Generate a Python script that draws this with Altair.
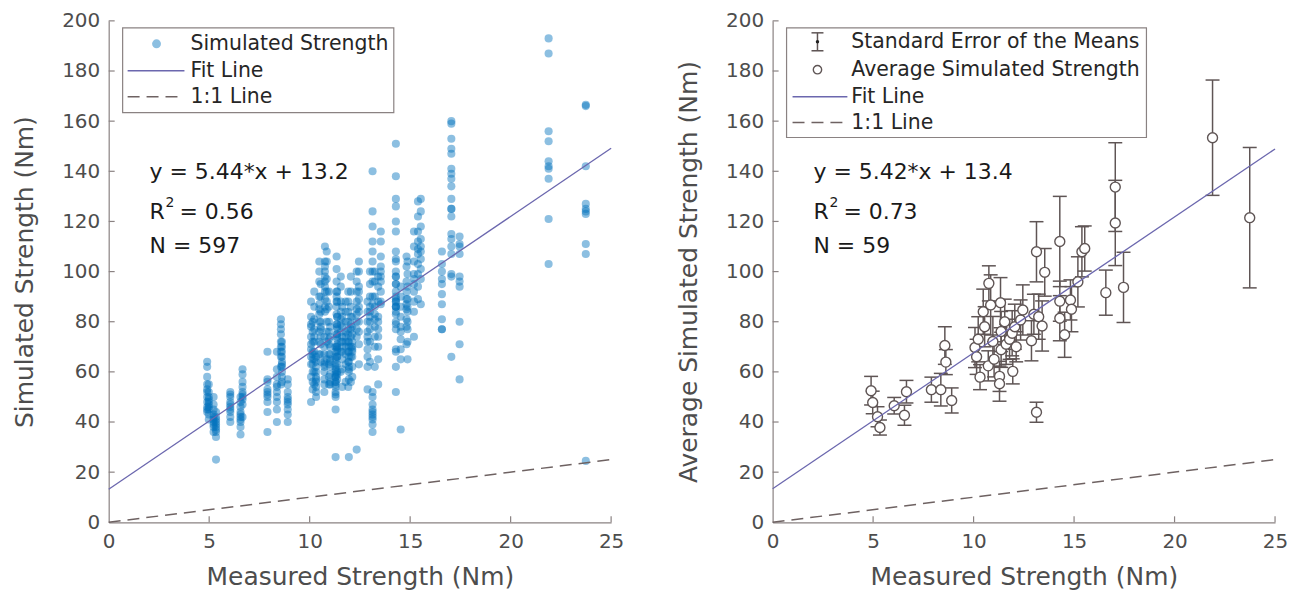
import altair as alt
import pandas as pd

# ---------------- data ----------------
subject_x = [4.90, 4.98, 5.22, 5.34, 6.05, 6.56, 6.66, 7.90, 8.37, 8.57, 8.62, 8.91,
             10.07, 10.15, 10.23, 10.32, 10.48, 10.55, 10.73, 10.76, 10.85, 10.96, 11.02,
             11.29, 11.29, 11.34, 11.37, 11.37, 11.55, 11.62, 11.79, 11.92, 11.95, 12.05,
             12.12, 12.34, 12.45, 12.88, 13.00, 13.13, 13.13, 13.24, 13.41, 13.54, 14.29,
             14.29, 14.29, 14.53, 14.82, 14.87, 15.19, 15.39, 15.53, 16.58, 17.05, 17.05,
             17.46, 21.89, 23.74]

avg_simulated = [52.5, 47.8, 42.1, 37.8, 46.5, 42.7, 52.1, 52.9, 52.9, 70.5, 63.9, 48.6,
                 69.7, 66.0, 73.0, 57.9, 84.0, 78.0, 62.4, 95.3, 86.7, 72.1, 65.0,
                 58.2, 55.3, 87.6, 76.1, 68.8, 80.0, 71.0, 73.0, 75.4, 60.2, 78.0,
                 70.0, 80.7, 84.7, 72.4, 83.0, 107.9, 43.9, 82.0, 78.3, 99.7, 112.0,
                 88.2, 81.4, 74.8, 88.7, 85.0, 95.9, 107.9, 109.2, 91.6, 133.7, 119.4,
                 93.7, 153.4, 121.5]

std_error = [5.7, 4.5, 4.0, 3.0, 3.3, 4.0, 4.5, 5.0, 6.5, 7.5, 5.0, 5.0,
             8.0, 7.0, 9.0, 5.0, 9.0, 8.0, 6.0, 7.0, 12.0, 10.0, 7.0,
             6.0, 7.0, 10.0, 8.0, 7.0, 9.0, 8.0, 8.0, 9.0, 5.0, 9.0,
             6.0, 8.0, 10.0, 8.0, 8.0, 12.0, 4.0, 9.0, 10.0, 9.5, 18.0,
             8.0, 9.0, 9.0, 8.0, 9.0, 10.0, 10.0, 9.0, 9.0, 17.7, 17.0,
             14.0, 23.0, 28.0]

simulated_values = [
    [64, 62, 58, 55, 53, 52, 50, 48, 46, 44, 45],
    [55, 52, 50, 49, 48, 47, 46, 45, 43, 41],
    [50, 47, 45, 43, 42, 41, 40, 39, 38, 36],
    [44, 42, 41, 40, 39, 38, 37, 36, 34, 25],
    [52, 51, 50, 48, 47, 46, 45, 44, 42, 40],
    [50, 48, 46, 44, 43, 42, 41, 40, 38, 35],
    [61, 59, 56, 54, 52, 51, 50, 49, 47, 42],
    [68, 57, 56, 53, 52, 51, 50, 48, 44, 36],
    [68, 61, 58, 55, 54, 52, 50, 48, 45, 40],
    [81, 79, 77, 75, 72, 70, 68, 66, 62, 55],
    [72, 70, 68, 66, 64, 63, 62, 60, 58, 56],
    [57, 55, 52, 50, 49, 48, 47, 45, 43, 40],
    [88, 82, 79, 78, 74, 71, 69, 66, 63, 58, 48],
    [80, 76, 72, 68, 67, 65, 63, 60, 56, 53],
    [92, 86, 81, 77, 74, 72, 68, 65, 60, 55],
    [66, 64, 62, 60, 58, 57, 56, 54, 52, 50],
    [104, 100, 96, 90, 87, 85, 83, 80, 76, 72, 67],
    [95, 90, 84, 80, 78, 77, 74, 71, 67, 64],
    [74, 70, 67, 64, 63, 62, 60, 57, 55, 52],
    [110, 104, 102, 100, 98, 96, 94, 92, 89, 86, 84],
    [108, 104, 97, 92, 88, 85, 80, 76, 72, 65],
    [92, 86, 80, 76, 73, 71, 67, 63, 58, 55],
    [78, 74, 70, 67, 65, 64, 62, 59, 56, 55],
    [70, 66, 63, 61, 59, 58, 56, 54, 50, 45],
    [68, 65, 62, 60, 58, 56, 55, 52, 51, 26],
    [106, 101, 96, 92, 90, 88, 86, 83, 79, 75, 70],
    [92, 88, 82, 79, 77, 75, 73, 70, 66, 59],
    [82, 78, 74, 71, 69, 68, 66, 63, 60, 57],
    [98, 94, 88, 84, 81, 79, 76, 72, 68, 60],
    [86, 82, 78, 74, 72, 70, 68, 65, 61, 54],
    [88, 84, 80, 76, 74, 72, 70, 67, 63, 56],
    [92, 88, 84, 80, 77, 75, 72, 68, 64, 54],
    [72, 70, 68, 66, 64, 62, 61, 60, 57, 26],
    [98, 92, 86, 82, 79, 77, 74, 70, 66, 56],
    [82, 78, 75, 72, 70, 69, 68, 66, 62, 58],
    [100, 96, 92, 88, 85, 83, 80, 77, 74, 29],
    [104, 100, 94, 92, 89, 86, 84, 80, 76, 71, 63],
    [88, 84, 80, 76, 74, 72, 69, 66, 62, 53],
    [100, 95, 90, 86, 84, 82, 80, 77, 72, 64],
    [140, 124, 118, 112, 108, 104, 100, 96, 90, 87],
    [52, 50, 47, 45, 44, 43, 42, 41, 39, 36],
    [100, 96, 90, 86, 83, 81, 78, 74, 70, 62],
    [98, 94, 88, 82, 80, 77, 74, 70, 65, 55],
    [116, 112, 106, 102, 100, 98, 96, 92, 88, 87],
    [151, 138, 129, 126, 120, 116, 108, 105, 98, 86, 69],
    [104, 100, 95, 90, 89, 88, 86, 83, 79, 68],
    [98, 95, 92, 88, 86, 84, 80, 77, 62, 52],
    [94, 90, 86, 82, 78, 76, 73, 69, 65, 37],
    [106, 102, 96, 92, 89, 87, 85, 81, 78, 71],
    [104, 99, 94, 89, 86, 84, 80, 77, 72, 65],
    [116, 110, 104, 99, 97, 95, 92, 88, 84, 74],
    [128, 122, 116, 112, 109, 107, 103, 99, 94, 89],
    [129, 124, 118, 113, 110, 108, 105, 101, 97, 87],
    [108, 103, 100, 97, 95, 91, 87, 81, 77, 77],
    [160, 159, 153, 147, 139, 134, 125, 122, 113, 99],
    [149, 141, 137, 129, 125, 115, 110, 107, 98, 66],
    [114, 111, 110, 107, 98, 96, 94, 80, 71, 57],
    [193, 187, 156, 152, 144, 142, 141, 137, 121, 103],
    [166.5, 166, 142, 127, 125, 124, 123, 111, 107, 24.5],
]

fit_left = (5.44, 13.2)
fit_right = (5.42, 13.4)
x_ticks = [0, 5, 10, 15, 20, 25]
y_ticks = [0, 20, 40, 60, 80, 100, 120, 140, 160, 180, 200]

# ---------------- styling ----------------
W, H = 504, 503
FONT = "DejaVu Sans"
AXC = "#8a8282"
EBC = "#5f5555"
BLUE = "#0072BD"
FITC = "#6b67ae"
DASHC = "#6e6262"
TXT = "#1a1a1a"

xs = alt.Scale(domain=[0, 25], nice=False, zero=False)
ys = alt.Scale(domain=[0, 200], nice=False, zero=False)

one = pd.DataFrame({"a": [0]})

X_TITLE = "Measured Strength (Nm)"


def xa():
    return alt.Axis(values=x_ticks, title=X_TITLE, labelFlush=False)


def ya(title):
    return alt.Axis(values=y_ticks, title=title)


def lines_layers(slope, intercept, ytitle):
    fit_df = pd.DataFrame({"x": [0, 25], "y": [intercept, slope * 25 + intercept]})
    one_df = pd.DataFrame({"x": [0, 25], "y": [0, 25]})
    fit = alt.Chart(fit_df).mark_line(color=FITC, strokeWidth=1.3).encode(
        x=alt.X("x:Q", scale=xs, axis=xa()), y=alt.Y("y:Q", scale=ys, axis=ya(ytitle)))
    oneone = alt.Chart(one_df).mark_line(color=DASHC, strokeWidth=1.5, strokeDash=[12, 7]).encode(
        x=alt.X("x:Q", scale=xs, axis=xa()), y=alt.Y("y:Q", scale=ys, axis=ya(ytitle)))
    return [fit, oneone]


def tick_layers(ytitle):
    xt = alt.Chart(pd.DataFrame({"t": x_ticks[1:]})).mark_rule(color=AXC, strokeWidth=1.2).encode(
        x=alt.X("t:Q", scale=xs, axis=xa()), y=alt.value(H), y2=alt.value(H - 6))
    yt = alt.Chart(pd.DataFrame({"t": y_ticks[1:]})).mark_rule(color=AXC, strokeWidth=1.2).encode(
        y=alt.Y("t:Q", scale=ys, axis=ya(ytitle)), x=alt.value(0), x2=alt.value(6))
    return [xt, yt]


def label(text, x, y, size=20.5, color="#262626"):
    return alt.Chart(one).mark_text(text=text, align="left", baseline="middle", font=FONT,
                                    fontSize=size, color=color).encode(
        x=alt.value(x), y=alt.value(y))


def hline(x1, x2, y, color, dash=None):
    kw = dict(color=color, strokeWidth=1.5)
    if dash:
        kw["strokeDash"] = dash
    return alt.Chart(one).mark_rule(**kw).encode(x=alt.value(x1), x2=alt.value(x2), y=alt.value(y))


def annotations(eq, r2, n):
    return [
        label(eq, 41, 152, 22, TXT),
        label("R", 41, 192, 22, TXT),
        label("2", 57, 183, 14, TXT),
        label("= " + r2, 71, 192, 22, TXT),
        label("N = " + n, 41, 226, 22, TXT),
    ]


# ---------------- left panel ----------------
LT = "Simulated Strength (Nm)"
pts_x, pts_y = [], []
for xv, vals in zip(subject_x, simulated_values):
    for v in vals:
        pts_x.append(xv)
        pts_y.append(v)
points_df = pd.DataFrame({"x": pts_x, "y": pts_y})

points = alt.Chart(points_df).mark_circle(size=66, color=BLUE, opacity=0.45).encode(
    x=alt.X("x:Q", scale=xs, axis=xa()),
    y=alt.Y("y:Q", scale=ys, axis=ya(LT)),
)

left_legend = [
    alt.Chart(one).mark_rect(fill="white", stroke=AXC, strokeWidth=1.2).encode(
        x=alt.value(14), x2=alt.value(286), y=alt.value(7), y2=alt.value(92)),
    alt.Chart(one).mark_circle(size=80, color=BLUE, opacity=0.45).encode(
        x=alt.value(48), y=alt.value(23)),
    label("Simulated Strength", 82, 23),
    hline(19, 76, 50, FITC),
    label("Fit Line", 82, 50),
    hline(19, 76, 76, DASHC, [12, 7]),
    label("1:1 Line", 82, 76),
]

left = alt.layer(points, *lines_layers(*fit_left, LT), *tick_layers(LT),
                 *annotations("y = 5.44*x + 13.2", "0.56", "597"),
                 *left_legend).properties(width=W, height=H)

# ---------------- right panel ----------------
RT = "Average Simulated Strength (Nm)"
means_df = pd.DataFrame({
    "x": subject_x,
    "m": avg_simulated,
    "lo": [m - s for m, s in zip(avg_simulated, std_error)],
    "hi": [m + s for m, s in zip(avg_simulated, std_error)],
})

bars = alt.Chart(means_df).mark_rule(color=EBC, strokeWidth=1.5).encode(
    x=alt.X("x:Q", scale=xs, axis=xa()),
    y=alt.Y("lo:Q", scale=ys, axis=ya(RT)),
    y2="hi:Q",
)
cap_lo = alt.Chart(means_df).mark_tick(orient="horizontal", size=14, thickness=1.5, color=EBC, opacity=1).encode(
    x=alt.X("x:Q", scale=xs, axis=xa()), y=alt.Y("lo:Q", scale=ys, axis=ya(RT)))
cap_hi = alt.Chart(means_df).mark_tick(orient="horizontal", size=14, thickness=1.5, color=EBC, opacity=1).encode(
    x=alt.X("x:Q", scale=xs, axis=xa()), y=alt.Y("hi:Q", scale=ys, axis=ya(RT)))
circles = alt.Chart(means_df).mark_point(shape="circle", size=100, filled=True, fill="white",
                                         stroke=EBC, strokeWidth=1.4, opacity=1).encode(
    x=alt.X("x:Q", scale=xs, axis=xa()), y=alt.Y("m:Q", scale=ys, axis=ya(RT)))

right_legend = [
    alt.Chart(one).mark_rect(fill="white", stroke=AXC, strokeWidth=1.2).encode(
        x=alt.value(14), x2=alt.value(375), y=alt.value(7), y2=alt.value(117)),
    alt.Chart(one).mark_rule(color=EBC, strokeWidth=1.5).encode(
        x=alt.value(45), y=alt.value(12), y2=alt.value(30)),
    hline(39, 51, 12, EBC),
    hline(39, 51, 30, EBC),
    alt.Chart(one).mark_circle(size=12, color="#222222", opacity=1).encode(
        x=alt.value(45), y=alt.value(21)),
    label("Standard Error of the Means", 79, 21),
    alt.Chart(one).mark_point(shape="circle", size=70, filled=True, fill="white",
                              stroke=EBC, strokeWidth=1.4, opacity=1).encode(
        x=alt.value(45), y=alt.value(49)),
    label("Average Simulated Strength", 79, 49),
    hline(20, 75, 76, FITC),
    label("Fit Line", 79, 76),
    hline(20, 75, 102, DASHC, [12, 7]),
    label("1:1 Line", 79, 102),
]

right = alt.layer(bars, cap_lo, cap_hi, circles, *lines_layers(*fit_right, RT), *tick_layers(RT),
                  *annotations("y = 5.42*x + 13.4", "0.73", "59"),
                  *right_legend).properties(width=W, height=H)

chart = alt.hconcat(left, right, spacing=52).properties(
    padding={"left": 4, "top": 2, "right": 2, "bottom": 0}
).configure_view(strokeWidth=0).configure_axis(
    grid=False, ticks=False,
    domainColor=AXC, domainWidth=1.2,
    labelFont=FONT, labelFontSize=20, labelColor="#4d4d4d", labelPadding=9,
    titleFont=FONT, titleFontSize=25, titleColor="#4d4d4d", titleFontWeight="normal",
).configure_axisY(titlePadding=24).configure_axisX(titlePadding=13)

chart.save("out.html", embed_options={"renderer": "svg", "actions": False})
